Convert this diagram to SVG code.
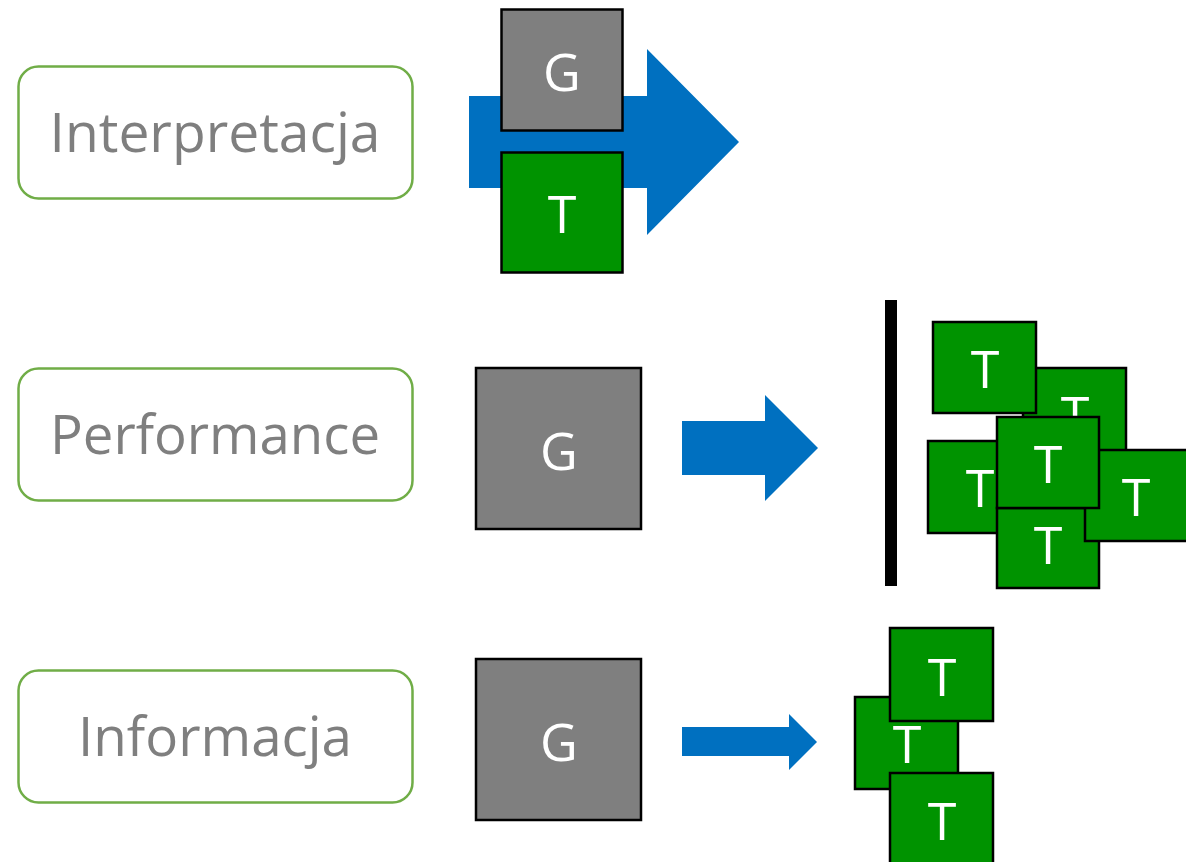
<svg xmlns="http://www.w3.org/2000/svg" width="1186" height="862" viewBox="0 0 1186 862">
<style>
.lbl{fill:none;stroke:#70AD47;stroke-width:2.5}
.ltxt{font-family:"Open Sans","Noto Sans",sans-serif;font-size:55px;fill:#7F7F7F;text-anchor:middle}
.g{fill:#7F7F7F;stroke:#000;stroke-width:2.5}
.t{fill:#009300;stroke:#000;stroke-width:2.5}
.bt{font-family:"Open Sans","Noto Sans",sans-serif;font-size:52px;fill:#fff;text-anchor:middle}
.arr{fill:#0070C0}
</style>
<rect width="1186" height="862" fill="#fff"/>
<g id="label-interpretacja">
<rect class="lbl" x="18.5" y="66.5" width="394" height="132" rx="20"/>
<text class="ltxt" x="215" y="152" textLength="331" lengthAdjust="spacingAndGlyphs">Interpretacja</text>
</g>
<g id="label-performance">
<rect class="lbl" x="18.5" y="368.5" width="394" height="132" rx="20"/>
<text class="ltxt" x="215" y="454" textLength="330" lengthAdjust="spacingAndGlyphs">Performance</text>
</g>
<g id="label-informacja">
<rect class="lbl" x="18.5" y="670.5" width="394" height="132" rx="20"/>
<text class="ltxt" x="215" y="756" textLength="274" lengthAdjust="spacingAndGlyphs">Informacja</text>
</g>
<g id="connectors">
<polygon class="arr" points="469,96 647,96 647,49 739,142 647,235 647,188 469,188"/>
<polygon class="arr" points="682,421 765,421 765,395 818,448 765,501 765,475 682,475"/>
<polygon class="arr" points="682,727 789,727 789,714 817,742 789,770 789,756 682,756"/>
<rect x="885" y="300" width="12" height="286" fill="#000"/>
</g>
<g id="interp-g">
<rect class="g" x="501.5" y="9.5" width="121" height="121"/>
<text class="bt" x="562" y="91">G</text>
</g>
<g id="interp-t">
<rect class="t" x="501.5" y="152.5" width="121" height="120"/>
<text class="bt" x="562" y="233">T</text>
</g>
<g id="perf-g">
<rect class="g" x="476" y="368" width="165" height="161"/>
<text class="bt" x="559" y="470">G</text>
</g>
<g id="info-g">
<rect class="g" x="476" y="659" width="165" height="161"/>
<text class="bt" x="559" y="761">G</text>
</g>
<g id="perf-t-b">
<rect class="t" x="1023" y="368" width="103" height="91"/>
<text class="bt" x="1075" y="434">T</text>
</g>
<g id="perf-t-c">
<rect class="t" x="928" y="441" width="103" height="92"/>
<text class="bt" x="980" y="507">T</text>
</g>
<g id="perf-t-e">
<rect class="t" x="997" y="508" width="102" height="80"/>
<text class="bt" x="1048" y="564">T</text>
</g>
<g id="perf-t-f">
<rect class="t" x="1085" y="450" width="104" height="91"/>
<text class="bt" x="1136" y="516">T</text>
</g>
<g id="perf-t-d">
<rect class="t" x="997" y="417" width="102" height="91"/>
<text class="bt" x="1048" y="483">T</text>
</g>
<g id="perf-t-a">
<rect class="t" x="933" y="322" width="103" height="91"/>
<text class="bt" x="985" y="388">T</text>
</g>
<g id="info-t-mid">
<rect class="t" x="855" y="697" width="103" height="92"/>
<text class="bt" x="907" y="763">T</text>
</g>
<g id="info-t-top">
<rect class="t" x="890" y="628" width="103" height="93"/>
<text class="bt" x="942" y="696">T</text>
</g>
<g id="info-t-bot">
<rect class="t" x="890" y="773" width="103" height="92"/>
<text class="bt" x="942" y="840">T</text>
</g>
</svg>
